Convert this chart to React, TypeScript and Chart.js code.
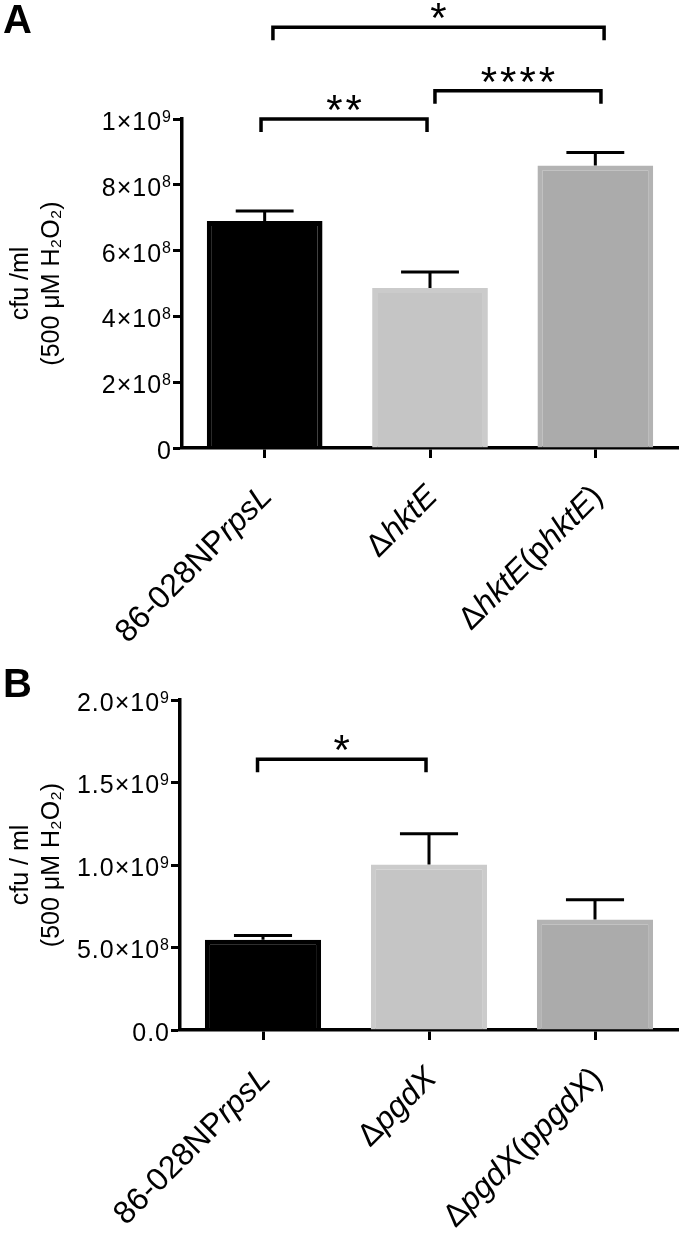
import React, { useEffect, useRef } from 'react';
import { Chart, registerables } from 'chart.js';

Chart.register(...registerables);

const FONT = "'Liberation Sans', Arimo, Arial, 'DejaVu Sans', sans-serif";

// ---------- Panel A data ----------
const categoriesA = ['86-028NP<i>rpsL</i>', 'Δ<i>hktE</i>', 'Δ<i>hktE</i>(p<i>hktE</i>)'];
const valuesA = [6.9e8, 4.86e8, 8.59e8];
const errorsA = [3.0e7, 4.9e7, 3.9e7];
const yTickLabelsA = ['0', '2×10⁸', '4×10⁸', '6×10⁸', '8×10⁸', '1×10⁹'];
const bracketFromA = [-0.022, 1.03, 0.05];
const bracketToA = [0.982, 2.034, 2.053];
const bracketYA = [1.0e9, 1.086e9, 1.279e9];
const bracketTextA = ['**', '****', '*'];

// ---------- Panel B data ----------
const categoriesB = ['86-028NP<i>rpsL</i>', 'Δ<i>pgdX</i>', 'Δ<i>pgdX</i>(p<i>pgdX</i>)'];
const valuesB = [5.47e8, 1.003e9, 6.69e8];
const errorsB = [2.6e7, 1.87e8, 1.2e8];
const yTickLabelsB = ['0.0', '5.0×10⁸', '1.0×10⁹', '1.5×10⁹', '2.0×10⁹'];
const bracketFromB = [-0.033];
const bracketToB = [0.982];
const bracketYB = [1.641e9];
const bracketTextB = ['*'];

const barFill = ['#000000', '#c5c5c5', '#ababab'];
const barBorder = ['#000000', '#cbcbcb', '#b3b3b3'];

const SUP = '⁰¹²³⁴⁵⁶⁷⁸⁹';

function parseSegs(s: string) {
  return s
    .split(/(<i>[^<]*<\/i>)/)
    .filter((p) => p.length)
    .map((p) => (p.startsWith('<i>') ? { t: p.slice(3, -4), it: true } : { t: p, it: false }));
}
const plain = (s: string) => s.replace(/<\/?i>/g, '');

function splitSup(s: string) {
  let base = '';
  let sup = '';
  for (const ch of s) {
    const k = SUP.indexOf(ch);
    if (k >= 0) sup += String(k);
    else base += ch;
  }
  return { base, sup };
}

const annotPlugin = {
  id: 'annot',
  afterDraw(chart: any, _args: any, opts: any) {
    const ctx = chart.ctx as CanvasRenderingContext2D;
    const xs = chart.scales.x;
    const ys = chart.scales.y;
    const meta = chart.getDatasetMeta(0);
    ctx.save();
    ctx.fillStyle = '#000';
    // y tick labels with true superscripts
    const baseSize = 25;
    const supSize = 16;
    const capH = baseSize * 0.716;
    ys.ticks.forEach((t: any, i: number) => {
      const lab = opts.yTicks[i];
      if (lab == null) return;
      const { base, sup } = splitSup(lab);
      const y = ys.getPixelForValue(t.value);
      const right = ys.right - 10;
      (ctx as any).letterSpacing = '1px';
      ctx.font = `${supSize}px ${FONT}`;
      const supW = sup ? ctx.measureText(sup).width : 0;
      ctx.font = `${baseSize}px ${FONT}`;
      const baseW = ctx.measureText(base).width;
      ctx.textAlign = 'left';
      ctx.textBaseline = 'alphabetic';
      const bl = y + capH / 2 + 2;
      ctx.fillText(base, right - supW - baseW, bl);
      if (sup) {
        ctx.font = `${supSize}px ${FONT}`;
        ctx.fillText(sup, right - supW, bl - capH + supSize * 0.716 - 2);
      }
      (ctx as any).letterSpacing = '0px';
    });
    // error bars (upper only)
    ctx.strokeStyle = '#000';
    ctx.lineWidth = 3;
    meta.data.forEach((el: any, i: number) => {
      const top = ys.getPixelForValue(opts.values[i] + opts.errors[i]);
      const cap = el.width * 0.5;
      ctx.beginPath();
      ctx.moveTo(el.x, el.y);
      ctx.lineTo(el.x, top);
      ctx.moveTo(el.x - cap / 2, top);
      ctx.lineTo(el.x + cap / 2, top);
      ctx.stroke();
    });
    // significance brackets
    const x0 = xs.getPixelForValue(0);
    const catW = xs.getPixelForValue(1) - x0;
    ctx.lineWidth = 3.5;
    ctx.lineJoin = 'miter';
    opts.bFrom.forEach((f: number, k: number) => {
      const x1 = x0 + f * catW;
      const x2 = x0 + opts.bTo[k] * catW;
      const y = ys.getPixelForValue(opts.bY[k]);
      ctx.beginPath();
      ctx.moveTo(x1, y + 13);
      ctx.lineTo(x1, y);
      ctx.lineTo(x2, y);
      ctx.lineTo(x2, y + 13);
      ctx.stroke();
      const txt = opts.bText[k];
      ctx.font = `42px ${FONT}`;
      (ctx as any).letterSpacing = '3px';
      const m = ctx.measureText(txt);
      ctx.textAlign = 'center';
      ctx.textBaseline = 'alphabetic';
      const cy = y - 16;
      const yb = cy + (m.actualBoundingBoxAscent - m.actualBoundingBoxDescent) / 2;
      ctx.fillText(txt, (x1 + x2) / 2 + 1.5, yb);
      (ctx as any).letterSpacing = '0px';
    });
    // category labels (rotated, with italics)
    opts.markup.forEach((mk: string, i: number) => {
      const segs = parseSegs(mk);
      const x = xs.getPixelForValue(i) + 9;
      const y = xs.top + 50;
      ctx.save();
      ctx.translate(x, y);
      ctx.rotate(-Math.PI / 4);
      const fonts = segs.map((s) => `${s.it ? 'italic ' : ''}32px ${FONT}`);
      let total = 0;
      const widths = segs.map((s, j) => {
        ctx.font = fonts[j];
        const w = ctx.measureText(s.t).width;
        total += w;
        return w;
      });
      let cx = -total;
      ctx.textAlign = 'left';
      ctx.textBaseline = 'alphabetic';
      segs.forEach((s, j) => {
        ctx.font = fonts[j];
        ctx.fillText(s.t, cx, 0);
        cx += widths[j];
      });
      ctx.restore();
    });
    // panel letter
    ctx.font = `bold 40px ${FONT}`;
    ctx.textAlign = 'left';
    ctx.textBaseline = 'alphabetic';
    ctx.fillText(opts.letter, 3, opts.letterY);
    ctx.restore();
  },
};

type PanelProps = {
  markup: string[];
  values: number[];
  errors: number[];
  yTicks: string[];
  yMax: number;
  yStep: number;
  bFrom: number[];
  bTo: number[];
  bY: number[];
  bText: string[];
  title: string[];
  letter: string;
  letterY: number;
  top: number;
  height: number;
  areaTop: number;
  areaBottom: number;
  axisLeft: number;
};

function Panel(p: PanelProps) {
  const ref = useRef<HTMLCanvasElement>(null);
  useEffect(() => {
    if (!ref.current) return;
    const chart = new Chart(ref.current, {
      type: 'bar',
      data: {
        labels: p.markup.map(plain),
        datasets: [
          {
            data: p.values,
            backgroundColor: barFill,
            borderColor: barBorder,
            borderWidth: 5,
            categoryPercentage: 1,
            barPercentage: 0.7,
          },
        ],
      },
      options: {
        responsive: false,
        animation: false,
        devicePixelRatio: 1,
        layout: { padding: { top: p.areaTop, right: 2, left: 0, bottom: 0 } },
        plugins: {
          legend: { display: false },
          tooltip: { enabled: false },
          annot: {
            markup: p.markup,
            values: p.values,
            errors: p.errors,
            yTicks: p.yTicks,
            bFrom: p.bFrom,
            bTo: p.bTo,
            bY: p.bY,
            bText: p.bText,
            letter: p.letter,
            letterY: p.letterY,
          },
        } as any,
        scales: {
          x: {
            type: 'category',
            offset: true,
            grid: {
              display: true,
              offset: false,
              drawOnChartArea: false,
              drawTicks: true,
              tickLength: 10,
              tickWidth: 3,
              tickColor: '#000',
            },
            border: { display: true, color: '#000', width: 3.5 },
            ticks: { display: false },
            afterFit: (s: any) => {
              s.height = p.height - p.areaBottom;
            },
          },
          y: {
            min: 0,
            max: p.yMax,
            grid: {
              display: true,
              drawOnChartArea: false,
              drawTicks: true,
              tickLength: 9,
              tickWidth: 3,
              tickColor: '#000',
            },
            border: { display: true, color: '#000', width: 3.5 },
            ticks: {
              display: false,
              stepSize: p.yStep,
            },
            title: {
              display: true,
              text: p.title,
              color: '#000',
              font: { family: FONT, size: 25, lineHeight: 1.24 },
              padding: { top: 6, bottom: 0 },
            },
            afterFit: (s: any) => {
              s.width = p.axisLeft;
            },
          },
        },
      } as any,
      plugins: [annotPlugin],
    });
    return () => chart.destroy();
  }, []);
  return (
    <canvas
      ref={ref}
      width={680}
      height={p.height}
      style={{ display: 'block', position: 'absolute', left: 0, top: p.top }}
    />
  );
}

export default function App() {
  return (
    <div style={{ position: 'absolute', left: 0, top: 0, width: 680, height: 1233, background: '#fff' }}>
      <Panel
        markup={categoriesA}
        values={valuesA}
        errors={errorsA}
        yTicks={yTickLabelsA}
        yMax={1e9}
        yStep={2e8}
        bFrom={bracketFromA}
        bTo={bracketToA}
        bY={bracketYA}
        bText={bracketTextA}
        title={['cfu /ml', '(500 μM H₂O₂)']}
        letter="A"
        letterY={33}
        top={0}
        height={660}
        areaTop={119}
        areaBottom={448}
        axisLeft={182}
      />
      <Panel
        markup={categoriesB}
        values={valuesB}
        errors={errorsB}
        yTicks={yTickLabelsB}
        yMax={2e9}
        yStep={5e8}
        bFrom={bracketFromB}
        bTo={bracketToB}
        bY={bracketYB}
        bText={bracketTextB}
        title={['cfu / ml', '(500 μM H₂O₂)']}
        letter="B"
        letterY={77}
        top={620}
        height={613}
        areaTop={80}
        areaBottom={410}
        axisLeft={180}
      />
    </div>
  );
}
